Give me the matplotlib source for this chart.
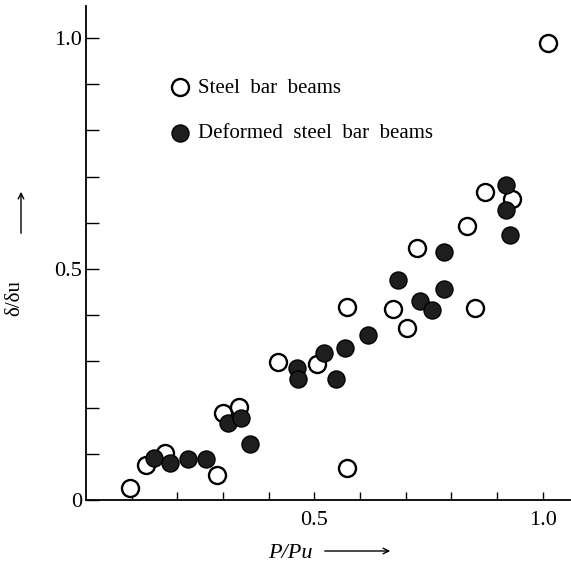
import numpy as np  # for tick positions
import matplotlib
matplotlib.use("Agg")
import matplotlib.pyplot as plt  # for plotting

plt.rcParams['font.family'] = ['Liberation Serif', 'DejaVu Serif']

# DATA
steel_x = [0.096, 0.131, 0.173, 0.287, 0.300, 0.335, 0.421, 0.505, 0.571,
           0.571, 0.672, 0.702, 0.726, 0.834, 0.853, 0.873, 0.932, 1.011]
steel_y = [0.026, 0.076, 0.102, 0.054, 0.188, 0.202, 0.299, 0.294, 0.070,
           0.418, 0.413, 0.372, 0.545, 0.593, 0.416, 0.666, 0.651, 0.989]

deformed_x = [0.149, 0.184, 0.224, 0.262, 0.310, 0.339, 0.359, 0.462, 0.464,
              0.521, 0.547, 0.568, 0.618, 0.683, 0.731, 0.757, 0.783, 0.783,
              0.919, 0.919, 0.928]
deformed_y = [0.091, 0.080, 0.089, 0.089, 0.167, 0.177, 0.121, 0.286, 0.262,
              0.318, 0.262, 0.329, 0.357, 0.476, 0.431, 0.411, 0.457, 0.537,
              0.682, 0.628, 0.574]

x_tick_labels = {0.5: "0.5", 1.0: "1.0"}
y_tick_labels = {0.0: "0", 0.5: "0.5", 1.0: "1.0"}

# FIGURE
fig = plt.figure(figsize=(5.71, 5.65), dpi=100)
ax = fig.add_axes([86 / 571, 1 - 500 / 565, 484 / 571, 494 / 565])

ax.scatter(steel_x, steel_y, s=150, facecolors='white', edgecolors='black',
           linewidths=1.7, zorder=2, label="Steel  bar  beams")
ax.scatter(deformed_x, deformed_y, s=150, facecolors='#1e1e1e', edgecolors='black',
           linewidths=1.0, zorder=3, label="Deformed  steel  bar  beams")

ax.set_xlim(0, 1.06)
ax.set_ylim(0, 1.069)

# axes look: only left and bottom lines, ticks pointing inward
ax.spines['top'].set_visible(False)
ax.spines['right'].set_visible(False)
ax.spines['left'].set_linewidth(1.3)
ax.spines['bottom'].set_linewidth(1.3)

xt = np.round(np.arange(0.1, 1.01, 0.1), 1)
yt = np.round(np.arange(0.0, 1.01, 0.1), 1)
ax.set_xticks(xt)
ax.set_yticks(yt)
ax.set_xticklabels([x_tick_labels.get(v, "") for v in xt])
ax.set_yticklabels([y_tick_labels.get(v, "") for v in yt])
ax.tick_params(axis='x', direction='in', length=6, width=1.0, pad=8, labelsize=16)
ax.tick_params(axis='y', direction='in', length=9, width=1.0, pad=3, labelsize=16)

# legend
ax.legend(loc='upper left', bbox_to_anchor=(0.297, 0.862), bbox_transform=fig.transFigure,
          frameon=False, fontsize=15, handlelength=1.0, handletextpad=0.35,
          labelspacing=1.25, borderpad=0, borderaxespad=0, scatterpoints=1)

# axis labels with arrows
fig.text(15 / 571, 1 - 298 / 565, "δ/δu", rotation=90, fontsize=15,
         ha='center', va='center')
fig.text(290 / 571, 1 - 553 / 565, "P/Pu", style='italic', fontsize=16,
         ha='center', va='center')
ax.annotate("", xy=(21 / 571, 1 - 189 / 565), xytext=(21 / 571, 1 - 236 / 565),
            xycoords='figure fraction', textcoords='figure fraction',
            arrowprops=dict(arrowstyle='->', lw=1.0, color='black'))
ax.annotate("", xy=(393 / 571, 1 - 551 / 565), xytext=(322 / 571, 1 - 551 / 565),
            xycoords='figure fraction', textcoords='figure fraction',
            arrowprops=dict(arrowstyle='->', lw=1.0, color='black'))

plt.savefig("out.png", dpi=100)
